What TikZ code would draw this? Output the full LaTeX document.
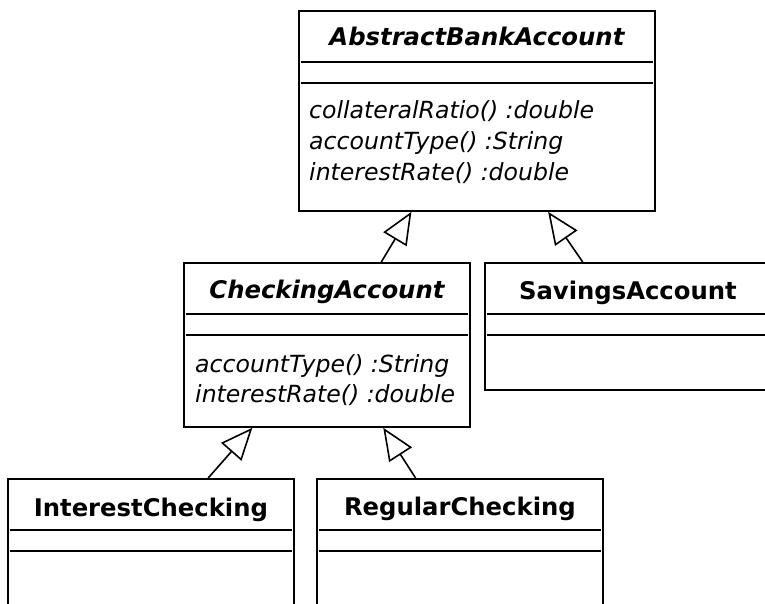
\documentclass[tikz,border=0pt]{standalone}
\usepackage{fontspec}
\setmainfont{DejaVu Sans}
\usetikzlibrary{arrows.meta,calc}
\begin{document}
\begin{tikzpicture}[x=1pt,y=-1pt,
  classbox/.style={draw, line width=1.8pt, rectangle, inner sep=0pt, anchor=north west},
  divider/.style={line width=1.6pt},
  classname/.style={font=\fontsize{24.3}{28}\selectfont\bfseries, inner sep=0pt, anchor=base},
  abstractname/.style={classname, font=\fontsize{24.3}{28}\selectfont\bfseries\itshape},
  op/.style={font=\fontsize{23.6}{28}\selectfont\itshape, inner sep=0pt, anchor=base west},
  gen/.style={line width=1.6pt, -{Triangle[open, length=32pt, width=27pt]}}
]
\useasboundingbox (0,0) rectangle (765,603);
\clip (0,0) rectangle (765,603);

% class boxes
\node[classbox, minimum width=356pt, minimum height=200pt] (aba) at (298,10) {};
\node[classbox, minimum width=286pt, minimum height=164pt] (chk) at (183,262) {};
\node[classbox, minimum width=286pt, minimum height=127pt] (sav) at (484,262) {};
\node[classbox, minimum width=286pt, minimum height=170pt] (int) at (7,478) {};
\node[classbox, minimum width=286pt, minimum height=170pt] (reg) at (316,478) {};

% compartment dividers
\foreach \c in {aba,chk,sav,int,reg}{
  \draw[divider] ([xshift=2.5pt,yshift=-52pt]\c.north west) -- ([xshift=-2.5pt,yshift=-52pt]\c.north east);
  \draw[divider] ([xshift=2.5pt,yshift=-73pt]\c.north west) -- ([xshift=-2.5pt,yshift=-73pt]\c.north east);
}

% class names
\node[abstractname] (abaname) at ([yshift=-35pt]aba.north) {AbstractBankAccount};
\node[abstractname] (chkname) at ([yshift=-36pt]chk.north) {CheckingAccount};
\node[classname] (savname) at ([yshift=-37pt]sav.north) {SavingsAccount};
\node[classname] (intname) at ([yshift=-38pt]int.north) {InterestChecking};
\node[classname] (regname) at ([yshift=-37pt]reg.north) {RegularChecking};

% operations
\node[op] (aba1) at ([xshift=11pt,yshift=-108pt]aba.north west) {collateralRatio() :double};
\node[op] (aba2) at ([xshift=11pt,yshift=-139pt]aba.north west) {accountType() :String};
\node[op] (aba3) at ([xshift=11pt,yshift=-170pt]aba.north west) {interestRate() :double};
\node[op] (chk1) at ([xshift=12pt,yshift=-110pt]chk.north west) {accountType() :String};
\node[op] (chk2) at ([xshift=12pt,yshift=-140pt]chk.north west) {interestRate() :double};

% generalizations
\draw[gen] ($(chk.north west)!0.689!(chk.north east)$) -- ($(aba.south west)!0.317!(aba.south east)$);
\draw[gen] ($(sav.north west)!0.343!(sav.north east)$) -- ($(aba.south west)!0.699!(aba.south east)$);
\draw[gen] ($(int.north west)!0.699!(int.north east)$) -- ($(chk.south west)!0.241!(chk.south east)$);
\draw[gen] ($(reg.north west)!0.346!(reg.north east)$) -- ($(chk.south west)!0.696!(chk.south east)$);
\end{tikzpicture}
\end{document}
